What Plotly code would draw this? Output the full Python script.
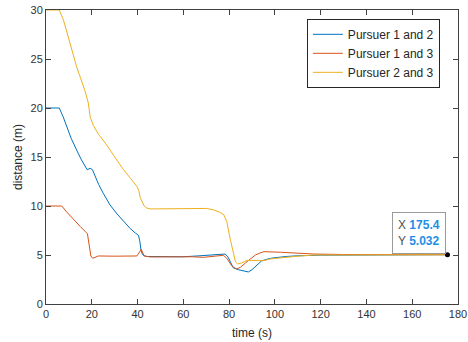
import plotly.graph_objects as go

# Pursuer 1 and 2
t_12 = [0, 5.8, 7.5, 9, 11, 13.4, 15.5, 18, 19.3, 20.3, 21.5, 23, 25, 28, 31, 34, 36.8, 39, 40.4,
        41, 41.5, 42.1, 42.6, 44, 50, 60, 66, 70, 75, 78.3, 79.5, 80.6, 81.8, 84, 86, 88.4, 90,
        91.3, 94.2, 97, 99.2, 105, 110, 120, 140, 160, 175.4]
d_12 = [20, 20, 19.1, 18.1, 16.9, 15.7, 14.7, 13.7, 13.85, 13.7, 13.0, 12.2, 11.3, 10.1, 9.2, 8.4,
        7.7, 7.25, 7.0, 6.4, 5.5, 5.1, 4.95, 4.85, 4.82, 4.82, 4.9, 4.95, 5.0, 5.1, 4.8, 4.3, 3.7,
        3.5, 3.4, 3.27, 3.5, 3.8, 4.4, 4.6, 4.7, 4.85, 4.92, 4.98, 5.02, 5.03, 5.032]

# Pursuer 1 and 3
t_13 = [0, 6.9, 9, 12, 15, 18.1, 18.8, 19.6, 20.4, 21.5, 22.9, 30, 39.7, 40.6, 41.6, 42.3, 42.9,
        45.5, 55, 64, 68.7, 73, 77.5, 79, 81.2, 83.2, 85, 87.2, 89.5, 91.5, 93.5, 95.2, 102.5, 110,
        117, 130, 150, 175.4]
d_13 = [10, 10, 9.4, 8.6, 7.9, 7.17, 6.2, 4.9, 4.66, 4.75, 4.9, 4.88, 4.9, 5.2, 5.58, 5.2, 4.9,
        4.8, 4.82, 4.82, 4.76, 4.85, 4.97, 4.66, 3.88, 3.57, 3.75, 4.2, 4.6, 5.0, 5.2, 5.34, 5.28,
        5.18, 5.1, 5.05, 5.03, 5.032]

# Pursuer 2 and 3
t_23 = [0, 5.8, 7.6, 10.5, 13.4, 17.1, 18.5, 19.3, 20.7, 23, 26.6, 30, 33.9, 37, 39.7, 40.5, 41.2,
        42.9, 44, 45.5, 55, 65, 70, 73.3, 76, 77.7, 79, 80.6, 81.8, 82.8, 83.8, 85.5, 87.9, 91,
        95.2, 98, 102.5, 110, 117, 130, 150, 175.4]
d_23 = [30, 30, 29.0, 26.6, 24.2, 21.7, 20.5, 19.1, 18.2, 17.3, 16.2, 15.0, 13.7, 12.8, 12.0, 11.6,
        10.85, 10.0, 9.8, 9.7, 9.7, 9.72, 9.75, 9.6, 9.35, 9.1, 8.4, 6.5, 5.1, 4.3, 4.08, 4.2, 4.45,
        4.45, 4.42, 4.6, 4.73, 4.88, 5.0, 5.02, 5.03, 5.032]

names = ["Pursuer 1 and 2", "Pursuer 1 and 3", "Pursuer 2 and 3"]
colors = ["#0072BD", "#D95319", "#EDB120"]

tip_x = [175.4]
tip_y = [5.032]

x_ticks = [0, 20, 40, 60, 80, 100, 120, 140, 160, 180]
y_ticks = [0, 5, 10, 15, 20, 25, 30]

FONT = "Liberation Sans, Arial, sans-serif"

fig = go.Figure()
for t, d, n, c in zip([t_12, t_13, t_23], [d_12, d_13, d_23], names, colors):
    fig.add_trace(go.Scatter(x=t, y=d, mode="lines", name=n,
                             line=dict(color=c, width=1)))

fig.add_trace(go.Scatter(x=tip_x, y=tip_y, mode="markers", showlegend=False,
                         marker=dict(color="black", size=5)))

fig.add_annotation(
    x=tip_x[0], y=tip_y[0], xref="x", yref="y", showarrow=False,
    xanchor="right", yanchor="bottom", xshift=-1, yshift=1,
    text=("<span style='color:#505050'>X</span> <b style='color:#1E8FE6'>%.1f</b><br>"
          "<span style='color:#505050'>Y</span> <b style='color:#1E8FE6'>%.3f</b>") % (tip_x[0], tip_y[0]),
    align="left", font=dict(family=FONT, size=12),
    bgcolor="white", bordercolor="#9a9a9a", borderwidth=1, borderpad=5,
)

axis_common = dict(
    showline=True, linecolor="#404040", linewidth=1, mirror="ticks",
    ticks="inside", ticklen=5, tickcolor="#404040", showgrid=False, zeroline=False,
    tickfont=dict(family=FONT, size=11, color="#333333"), automargin=False,
)

fig.update_layout(
    width=468, height=342,
    margin=dict(l=46, r=10, t=10, b=38),
    paper_bgcolor="white", plot_bgcolor="white",
    font=dict(family=FONT, size=11, color="#262626"),
    xaxis=dict(range=[0, 180], tickvals=x_ticks,
               title=dict(text="time (s)", font=dict(family=FONT, size=12), standoff=9),
               **axis_common),
    yaxis=dict(range=[0, 30], tickvals=y_ticks,
               title=dict(text="distance (m)", font=dict(family=FONT, size=12), standoff=5),
               **axis_common),
    legend=dict(x=0.956, y=0.97, xanchor="right", yanchor="top",
                bgcolor="white", bordercolor="#262626", borderwidth=1,
                font=dict(family=FONT, size=12, color="#262626"),
                tracegroupgap=0, itemwidth=30),
    showlegend=True,
)

fig.write_html("out.html")
